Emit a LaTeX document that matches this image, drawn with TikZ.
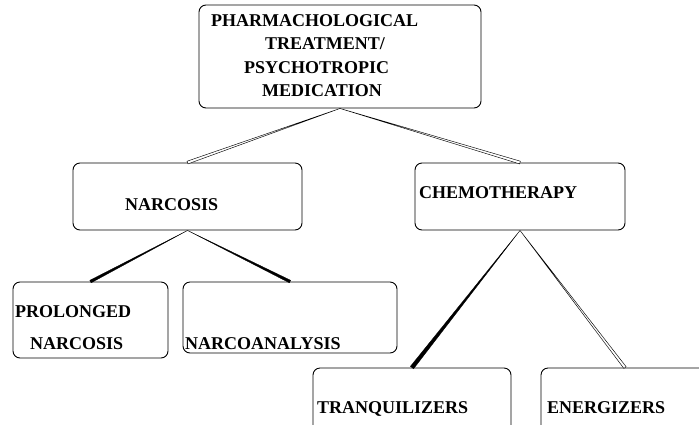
\documentclass[tikz,border=0pt]{standalone}
\usepackage{fontspec}
\setmainfont{Liberation Serif}
\usetikzlibrary{calc}
\begin{document}
\begin{tikzpicture}[x=1pt,y=-1pt,
  box/.style={draw, line width=0.9pt, rounded corners=7pt, inner sep=0pt},
  txt/.style={anchor=base west, inner sep=0pt, font=\fontsize{18}{23}\selectfont\bfseries},
  wedgeo/.style={draw, line width=0.45pt, fill=white, line join=miter},
  wedgef/.style={draw, line width=0.3pt, fill=black}]
\useasboundingbox (0,0) rectangle (699,424);
\clip (0,0) rectangle (699,424);
% boxes
\node[box, minimum width=282pt, minimum height=103pt] (top) at (340,56.5) {};
\node[box, minimum width=229pt, minimum height=67pt] (narc) at (187.5,196.5) {};
\node[box, minimum width=210pt, minimum height=67pt] (chemo) at (520,196.5) {};
\node[box, minimum width=155pt, minimum height=76pt] (prol) at (90.5,320) {};
\node[box, minimum width=214pt, minimum height=71pt] (nanal) at (290,317.5) {};
\node[box, minimum width=198pt, minimum height=80pt] (tranq) at (412,408) {};
\node[box, minimum width=168pt, minimum height=80pt] (ener) at (625,408) {};
% texts
\node[txt] (t1) at (211,26) {PHARMACHOLOGICAL};
\node[txt] (t2) at (265,49) {TREATMENT/};
\node[txt] (t3) at (244,73) {PSYCHOTROPIC};
\node[txt] (t4) at (262,96) {MEDICATION};
\node[txt] (t5) at (125,210) {NARCOSIS};
\node[txt] (t6) at (419,198) {CHEMOTHERAPY};
\node[txt] (t7) at (15,317) {PROLONGED};
\node[txt] (t8) at (30,349) {NARCOSIS};
\node[txt] (t9) at (185,349) {NARCOANALYSIS};
\node[txt] (t10) at (317,413) {TRANQUILIZERS};
\node[txt] (t11) at (547,413) {ENERGIZERS};
% connectors
\draw[wedgeo] (top.south) -- ($(narc.north)!1.4pt!90:(top.south)$) -- ($(narc.north)!1.4pt!-90:(top.south)$) -- cycle;
\draw[wedgeo] (top.south) -- ($(chemo.north)!1.4pt!90:(top.south)$) -- ($(chemo.north)!1.4pt!-90:(top.south)$) -- cycle;
\draw[wedgef] (narc.south) -- ($(prol.north)!1.4pt!90:(narc.south)$) -- ($(prol.north)!1.4pt!-90:(narc.south)$) -- cycle;
\draw[wedgef] (narc.south) -- ($(nanal.north)!1.4pt!90:(narc.south)$) -- ($(nanal.north)!1.4pt!-90:(narc.south)$) -- cycle;
\draw[wedgef] (chemo.south) -- ($(tranq.north)!2pt!90:(chemo.south)$) -- ($(tranq.north)!2pt!-90:(chemo.south)$) -- cycle;
\draw[wedgeo] (chemo.south) -- ($(ener.north)!1.4pt!90:(chemo.south)$) -- ($(ener.north)!1.4pt!-90:(chemo.south)$) -- cycle;
\end{tikzpicture}
\end{document}
